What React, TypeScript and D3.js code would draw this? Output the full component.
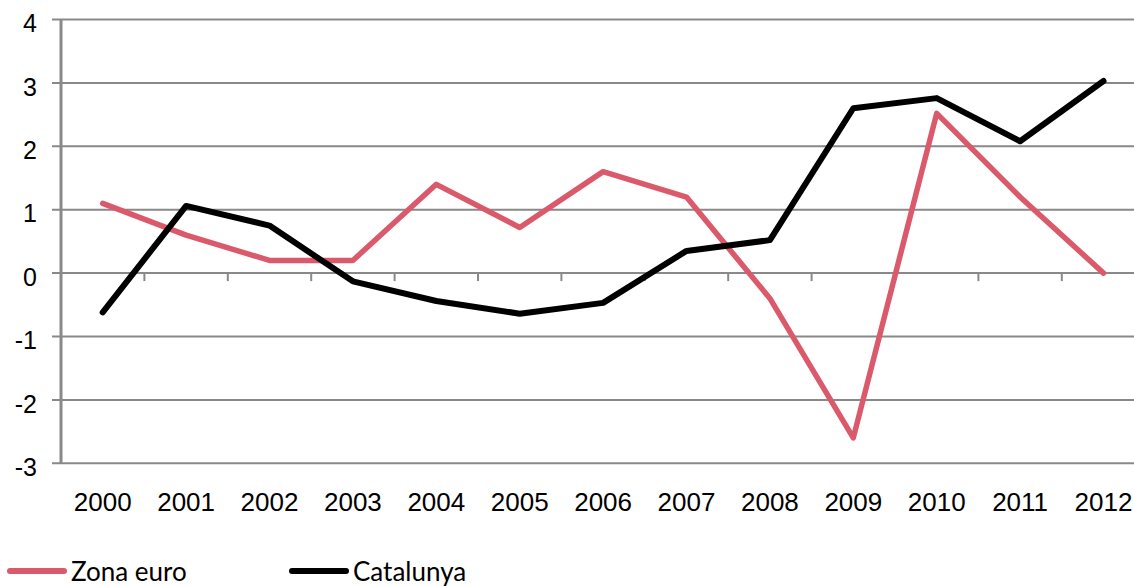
import { useEffect, useRef } from "react";
import * as d3 from "d3";

const years = ["2000", "2001", "2002", "2003", "2004", "2005", "2006", "2007", "2008", "2009", "2010", "2011", "2012"];
const zonaEuro = [1.1, 0.6, 0.2, 0.2, 1.4, 0.72, 1.6, 1.2, -0.4, -2.6, 2.52, 1.2, 0.0];
const catalunya = [-0.62, 1.06, 0.75, -0.13, -0.44, -0.64, -0.47, 0.35, 0.52, 2.6, 2.76, 2.08, 3.03];
const yTicks = [-3, -2, -1, 0, 1, 2, 3, 4];

const W = 1134;
const H = 586;
const axisFont = "Arial, 'Liberation Sans', Helvetica, sans-serif";

const App = () => {
  const svgRef = useRef(null);

  useEffect(() => {
    const svg = d3.select(svgRef.current);
    svg.selectAll("*").remove();

    const x = d3.scaleBand().domain(years).range([61, 61 + 13 * 83.4]);
    const y = d3.scaleLinear().domain([-3, 4]).range([463.3, 19.5]);

    // grid lines
    svg
      .append("g")
      .selectAll("line")
      .data(yTicks)
      .enter()
      .append("line")
      .attr("x1", 52)
      .attr("x2", W)
      .attr("y1", (d) => y(d))
      .attr("y2", (d) => y(d))
      .attr("stroke", "#898989")
      .attr("stroke-width", 2);

    // y labels
    svg
      .append("g")
      .selectAll("text")
      .data(yTicks)
      .enter()
      .append("text")
      .attr("x", 37)
      .attr("y", (d) => y(d) + 4)
      .attr("dy", "0.35em")
      .attr("text-anchor", "end")
      .style("font-family", axisFont)
      .attr("font-size", 25)
      .attr("fill", "#000")
      .text((d) => d);

    // x category ticks on the zero line
    svg
      .append("g")
      .selectAll("line")
      .data(years.slice(1))
      .enter()
      .append("line")
      .attr("x1", (d) => x(d)!)
      .attr("x2", (d) => x(d)!)
      .attr("y1", y(0))
      .attr("y2", y(0) + 8)
      .attr("stroke", "#898989")
      .attr("stroke-width", 2);

    // y axis line
    svg
      .append("line")
      .attr("x1", 61)
      .attr("x2", 61)
      .attr("y1", y(4))
      .attr("y2", y(-3))
      .attr("stroke", "#898989")
      .attr("stroke-width", 3);

    // x labels
    svg
      .append("g")
      .selectAll("text")
      .data(years)
      .enter()
      .append("text")
      .attr("x", (d) => x(d)! + x.bandwidth() / 2)
      .attr("y", 511)
      .attr("text-anchor", "middle")
      .style("font-family", axisFont)
      .attr("font-size", 26)
      .attr("fill", "#000")
      .text((d) => d);

    const line = d3
      .line<number>()
      .x((_, i) => x(years[i])! + x.bandwidth() / 2)
      .y((d) => y(d));

    svg
      .append("path")
      .attr("d", line(zonaEuro))
      .attr("fill", "none")
      .attr("stroke", "#DA5A6B")
      .attr("stroke-width", 5.5)
      .attr("stroke-linejoin", "round")
      .attr("stroke-linecap", "round");

    svg
      .append("path")
      .attr("d", line(catalunya))
      .attr("fill", "none")
      .attr("stroke", "#000")
      .attr("stroke-width", 6)
      .attr("stroke-linejoin", "round")
      .attr("stroke-linecap", "round");

    // legend
    const legend = [
      { name: "Zona euro", color: "#DA5A6B", x: 10 },
      { name: "Catalunya", color: "#000", x: 292 },
    ];
    const lg = svg.append("g");
    legend.forEach((l) => {
      lg.append("line")
        .attr("x1", l.x)
        .attr("x2", l.x + 54)
        .attr("y1", 571)
        .attr("y2", 571)
        .attr("stroke", l.color)
        .attr("stroke-width", 6)
        .attr("stroke-linecap", "round");
      lg.append("text")
        .attr("x", l.x + 61)
        .attr("y", 581)
        .style("font-family", "Lato, 'Open Sans', sans-serif")
        .attr("font-size", 26)
        .attr("fill", "#000")
        .text(l.name);
    });
  }, []);

  return (
    <div style={{ position: "absolute", left: 0, top: 0 }}>
      <svg ref={svgRef} width={W} height={H} style={{ display: "block" }}></svg>
    </div>
  );
};

export default App;
